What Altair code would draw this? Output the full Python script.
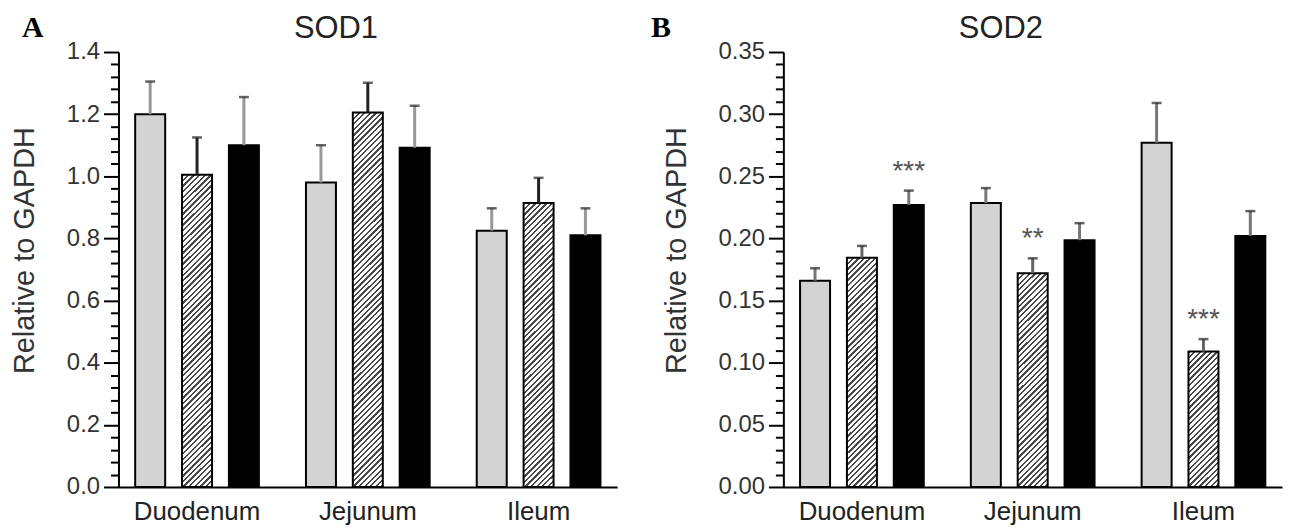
import math
import altair as alt
import pandas as pd

# ---------------- data ----------------
groups = ["Duodenum", "Jejunum", "Ileum"]
series = ["Control", "Treatment 1", "Treatment 2"]

sod1_values = [1.20, 1.005, 1.10, 0.98, 1.205, 1.092, 0.825, 0.914, 0.810]
sod1_errors = [0.105, 0.12, 0.155, 0.12, 0.096, 0.135, 0.072, 0.081, 0.087]
sod1_marks = ["", "", "", "", "", "", "", "", ""]
sod1_major = [0.0, 0.2, 0.4, 0.6, 0.8, 1.0, 1.2, 1.4]

sod2_values = [0.166, 0.1845, 0.227, 0.2285, 0.172, 0.1986, 0.277, 0.109, 0.202]
sod2_errors = [0.010, 0.0095, 0.0115, 0.012, 0.012, 0.0137, 0.032, 0.010, 0.020]
sod2_marks = ["", "", "***", "", "**", "", "", "***", ""]
sod2_major = [0.00, 0.05, 0.10, 0.15, 0.20, 0.25, 0.30, 0.35]

PW, PH = 501, 437
FONT = "Liberation Sans"
BAR_W = 30.0


def hatch_gradient(h, w=BAR_W, period=5.6, dark=2.3):
    """diagonal '/' stripes expressed as a linear gradient in bbox units"""
    h = max(h, 1.0)
    L = w + h
    c = L * w * h / (w * w + h * h)
    stops = []
    n = int(math.ceil(L / period)) + 1
    for k in range(n):
        a = min(1.0, k * period / L)
        b = min(1.0, (k * period + dark) / L)
        e = min(1.0, (k + 1) * period / L)
        stops += [
            {"offset": a, "color": "#4a4a4a"},
            {"offset": b, "color": "#4a4a4a"},
            {"offset": b, "color": "#ffffff"},
            {"offset": e, "color": "#ffffff"},
        ]
        if e >= 1.0:
            break
    return {"gradient": "linear", "x1": 0, "y1": 0, "x2": c / h, "y2": c / w,
            "stops": stops}


def panel(title, letter, letter_x, values, errors, marks, major, minor_step, fmt):
    ymax = major[-1]
    step = major[1] - major[0]
    df = pd.DataFrame({
        "group": [g for g in groups for _ in series],
        "series": series * len(groups),
        "value": values,
        "err": errors,
        "mark": marks,
    })
    n_minor = int(round(ymax / minor_step)) + 1
    tick_vals = [round(i * minor_step, 4) for i in range(n_minor)]
    major_test = f"abs(datum.value/{step} - round(datum.value/{step})) < 0.001"

    x = alt.X("group:N", sort=groups,
              scale=alt.Scale(domain=groups, paddingInner=0.1, paddingOuter=0.01),
              axis=alt.Axis(title=None, labelAngle=0, ticks=False, domainColor="black",
                            domainWidth=2, labelFont=FONT, labelFontSize=26,
                            labelColor="#222", labelPadding=12))
    xo = alt.XOffset("series:N", sort=series,
                     scale=alt.Scale(domain=series, paddingInner=0.36, paddingOuter=0.32))
    y = alt.Y("value:Q", scale=alt.Scale(domain=[0, ymax], nice=False, zero=True),
              axis=alt.Axis(title="Relative to GAPDH", values=tick_vals, tickCount=200,
                            labelExpr=f"{major_test} ? format(datum.value, '{fmt}') : ''",
                            tickSize={"condition": {"test": major_test, "value": 15}, "value": 8},
                            tickWidth=2, tickColor="black", domainColor="black",
                            domainWidth=2, labelFont=FONT, labelFontSize=24,
                            labelColor="#333", labelPadding=4, labelOverlap=False,
                            labelFlush=False, grid=False, titleFont=FONT,
                            titleFontSize=29, titleFontWeight="normal", titleColor="#333",
                            titlePadding=27, titleY=199))

    base = alt.Chart(df).transform_calculate(top="datum.value + datum.err")

    solid = base.transform_filter(f"datum.series != '{series[1]}'").mark_bar(
        stroke="black", strokeWidth=2).encode(
        x=x, xOffset=xo, y=y,
        fill=alt.Fill("series:N", scale=alt.Scale(domain=[series[0], series[2]],
                                                   range=["#d3d3d3", "#000000"]),
                      legend=None))

    layers = [solid]
    for g, v in zip(groups, values[1::3]):
        grad = hatch_gradient(v / ymax * PH)
        layers.append(
            base.transform_filter(f"datum.series == '{series[1]}' && datum.group == '{g}'")
            .mark_bar(stroke="black", strokeWidth=2, fill=grad)
            .encode(x=x, xOffset=xo, y=y))

    err_color = alt.condition(f"datum.series == '{series[1]}'",
                              alt.value("#222" if letter == "A" else "#666"),
                              alt.value("#999" if letter == "A" else "#777"))
    stems = base.mark_rule(strokeWidth=3).encode(
        x=x, xOffset=xo, y=y, y2="top:Q", color=err_color)
    caps = base.mark_tick(size=10, thickness=2.5, color="#222").encode(
        x=x, xOffset=xo, y=alt.Y("top:Q", scale=alt.Scale(domain=[0, ymax], nice=False)))
    stars = base.mark_text(font=FONT, fontSize=28, color="#555", baseline="alphabetic",
                           dy=-11).encode(
        x=x, xOffset=xo, y=alt.Y("top:Q", scale=alt.Scale(domain=[0, ymax], nice=False)),
        text="mark:N")
    lab = alt.Chart(alt.Data(values=[{"t": letter}])).mark_text(
        font="Liberation Serif", fontWeight="bold", fontSize=30, color="black",
        align="center", baseline="alphabetic").encode(
        x=alt.value(letter_x), y=alt.value(-15), text="t:N")
    ttl = alt.Chart(alt.Data(values=[{"t": title}])).mark_text(
        font=FONT, fontSize=31, color="#222", align="center",
        baseline="alphabetic").encode(
        x=alt.value(PW / 2 - 32), y=alt.value(-14), text="t:N")

    layers += [stems, caps, stars, lab, ttl]
    return alt.layer(*layers).properties(width=PW, height=PH)


pa = panel("SOD1", "A", -86, sod1_values, sod1_errors, sod1_marks, sod1_major, 0.04, ".1f")
pb = panel("SOD2", "B", -123, sod2_values, sod2_errors, sod2_marks, sod2_major, 0.01, ".2f")

chart = alt.hconcat(pa, pb, spacing=33).properties(
    padding={"left": 2, "top": 4, "right": 5, "bottom": 5}
).configure_view(stroke="transparent", strokeWidth=0)

chart.save("out.html", embed_options={"renderer": "svg", "actions": False})
